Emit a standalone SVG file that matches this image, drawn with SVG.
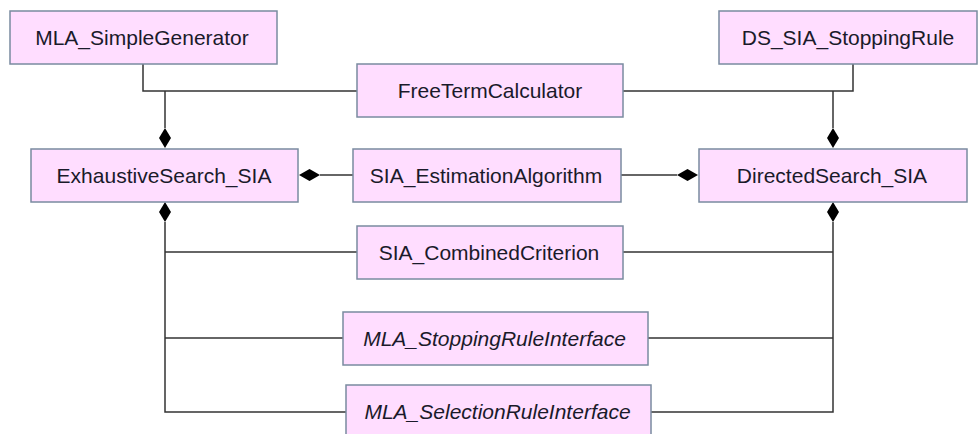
<svg xmlns="http://www.w3.org/2000/svg" width="978" height="434" viewBox="0 0 978 434">
  <style>
    .box { fill: #ffddff; stroke: #7a8ba0; stroke-width: 1.5; }
    .lbl { font-family: "Liberation Sans", Arial, sans-serif; font-size: 21px; fill: #1a1a2a; text-anchor: middle; }
    .it { font-style: italic; }
    .ln { fill: none; stroke: #333; stroke-width: 1.5; }
    .dm { fill: #000; }
  </style>
  <rect width="978" height="434" fill="#fff"/>

  <!-- connectors -->
  <g id="connectors">
    <!-- SimpleGenerator / FreeTerm / StoppingRule composition at top -->
    <polyline class="ln" points="143,64 143,91 357,91"/>
    <line class="ln" x1="165" y1="91" x2="165" y2="128"/>
    <polyline class="ln" points="853,64 853,91 623,91"/>
    <line class="ln" x1="833" y1="91" x2="833" y2="128"/>
    <path class="dm" d="M165,128 L171,138 L165,148 L159,138 Z"/>
    <path class="dm" d="M833,128 L839,138 L833,148 L827,138 Z"/>

    <!-- estimation algorithm links -->
    <line class="ln" x1="320" y1="175" x2="353" y2="175"/>
    <path class="dm" d="M299,175 L309.5,169 L320,175 L309.5,181 Z"/>
    <line class="ln" x1="621" y1="175" x2="677" y2="175"/>
    <path class="dm" d="M677,175 L687.5,169 L698,175 L687.5,181 Z"/>

    <!-- lower trunks -->
    <path class="dm" d="M165,202 L171,212 L165,222 L159,212 Z"/>
    <path class="dm" d="M833,202 L839,212 L833,222 L827,212 Z"/>
    <polyline class="ln" points="165,222 165,412 346,412"/>
    <line class="ln" x1="165" y1="252" x2="357" y2="252"/>
    <line class="ln" x1="165" y1="338" x2="343" y2="338"/>
    <polyline class="ln" points="833,222 833,412 651,412"/>
    <line class="ln" x1="623" y1="252" x2="833" y2="252"/>
    <line class="ln" x1="648" y1="338" x2="833" y2="338"/>
  </g>

  <g id="MLA_SimpleGenerator">
    <rect class="box" x="10" y="11" width="267" height="53"/>
    <text class="lbl" x="142" y="44.5">MLA_SimpleGenerator</text>
  </g>
  <g id="DS_SIA_StoppingRule">
    <rect class="box" x="719" y="11" width="258" height="53"/>
    <text class="lbl" x="848" y="44.5">DS_SIA_StoppingRule</text>
  </g>
  <g id="FreeTermCalculator">
    <rect class="box" x="357" y="64" width="266" height="53"/>
    <text class="lbl" x="490" y="97.5">FreeTermCalculator</text>
  </g>
  <g id="ExhaustiveSearch_SIA">
    <rect class="box" x="31" y="149" width="267" height="53"/>
    <text class="lbl" x="164" y="182.5">ExhaustiveSearch_SIA</text>
  </g>
  <g id="SIA_EstimationAlgorithm">
    <rect class="box" x="353" y="149" width="268" height="53"/>
    <text class="lbl" x="486" y="182.5">SIA_EstimationAlgorithm</text>
  </g>
  <g id="DirectedSearch_SIA">
    <rect class="box" x="699" y="149" width="268" height="53"/>
    <text class="lbl" x="832" y="182.5">DirectedSearch_SIA</text>
  </g>
  <g id="SIA_CombinedCriterion">
    <rect class="box" x="357" y="226" width="266" height="53"/>
    <text class="lbl" x="489" y="259.5">SIA_CombinedCriterion</text>
  </g>
  <g id="MLA_StoppingRuleInterface">
    <rect class="box" x="343" y="312" width="305" height="53"/>
    <text class="lbl it" x="494.5" y="345.5">MLA_StoppingRuleInterface</text>
  </g>
  <g id="MLA_SelectionRuleInterface">
    <rect class="box" x="346" y="385" width="305" height="53"/>
    <text class="lbl it" x="497.5" y="418.5">MLA_SelectionRuleInterface</text>
  </g>
</svg>
